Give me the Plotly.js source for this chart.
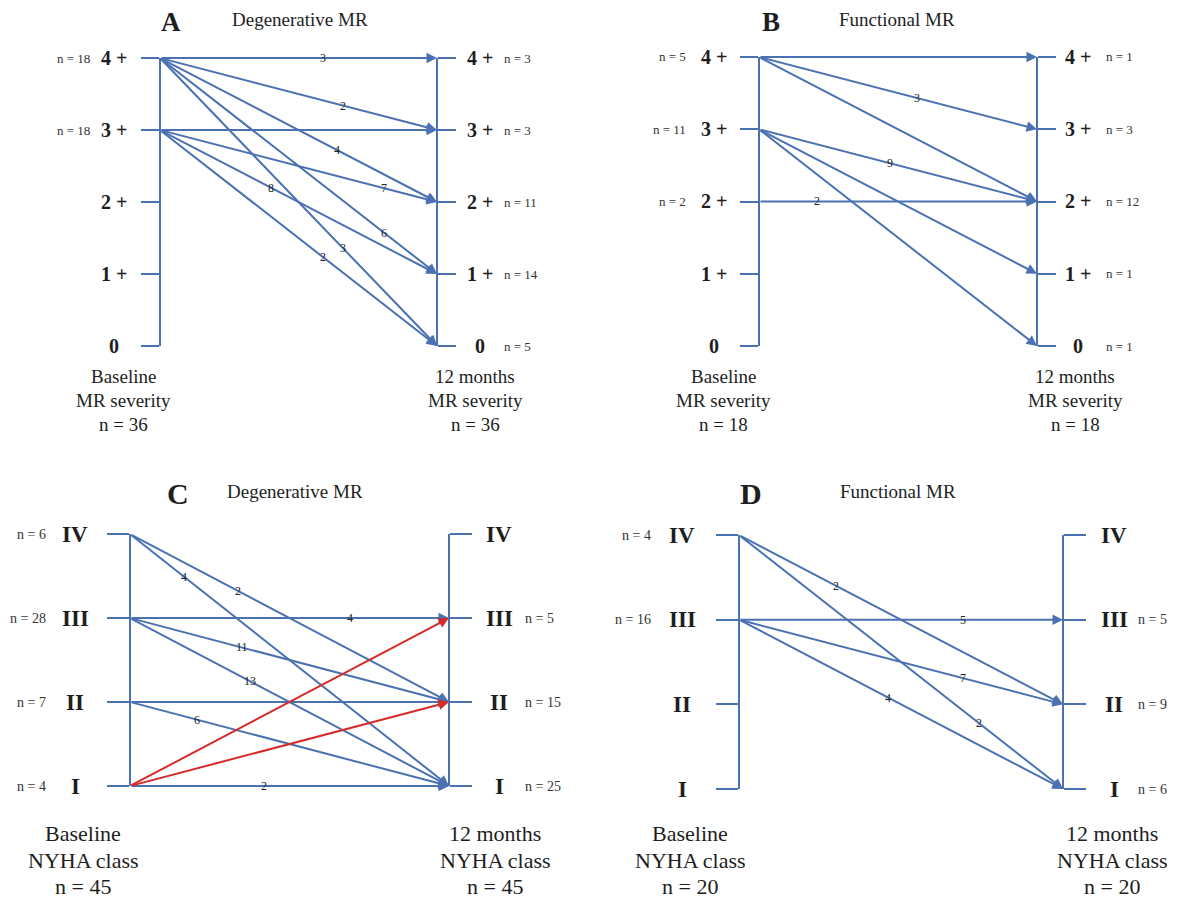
<!DOCTYPE html>
<html><head><meta charset="utf-8">
<script src="https://cdn.plot.ly/plotly-3.0.1.min.js"></script>
<style>body{margin:0;background:#fff}</style>
</head><body>
<div id="chart" style="width:1184px;height:903px"></div>
<script>
// ---------------- DATA ----------------
const mrLevels = [0, 1, 2, 3, 4];
const mrLabels = ['0', '1 +', '2 +', '3 +', '4 +'];
const nyhaLevels = [1, 2, 3, 4];
const nyhaLabels = ['I', 'II', 'III', 'IV'];

// Panel A: Degenerative MR, MR severity (baseline -> 12 months)
const aFrom  = [4, 4, 4, 4, 4, 3, 3, 3, 3];
const aTo    = [4, 3, 2, 1, 0, 3, 2, 1, 0];
const aCount = [3, 2, 4, 6, 3, 1, 7, 8, 2];
// Panel B: Functional MR, MR severity
const bFrom  = [4, 4, 4, 3, 3, 3, 2];
const bTo    = [4, 3, 2, 2, 1, 0, 2];
const bCount = [1, 3, 1, 9, 1, 1, 2];
// Panel C: Degenerative MR, NYHA class
const cFrom  = [4, 4, 3, 3, 3, 2, 2, 1, 1, 1];
const cTo    = [2, 1, 3, 2, 1, 2, 1, 1, 3, 2];
const cCount = [2, 4, 4, 11, 13, 1, 6, 2, 1, 1];
// Panel D: Functional MR, NYHA class
const dFrom  = [4, 4, 3, 3, 3];
const dTo    = [2, 1, 3, 2, 1];
const dCount = [2, 2, 5, 7, 4];

const panelLetters = ['A', 'B', 'C', 'D'];
const panelSubtitles = ['Degenerative MR', 'Functional MR', 'Degenerative MR', 'Functional MR'];
const mrCaptionLeft = ['Baseline', 'MR severity'];
const mrCaptionRight = ['12 months', 'MR severity'];
const nyhaCaptionLeft = ['Baseline', 'NYHA class'];
const nyhaCaptionRight = ['12 months', 'NYHA class'];

// ---------------- STYLE / LAYOUT ----------------
const W = 1184, H = 903;
const BLUE = '#4a72b2', RED = '#d42b2b', INK = '#1e1e1e';
const FONT = '"Liberation Serif", "Times New Roman", serif';

// where along each arrow its count label sits (fraction of the width)
const aLabelAt = [0.59, 0.66, 0.64, 0.81, 0.66, 0.5, 0.81, 0.40, 0.59];
const bLabelAt = [0.5, 0.57, 0.5, 0.47, 0.5, 0.5, 0.21];
const cLabelAt = [0.34, 0.17, 0.69, 0.35, 0.375, 0.5, 0.21, 0.42, 0.5, 0.5];
const dLabelAt = [0.30, 0.74, 0.69, 0.69, 0.46];

const geoms = [
  {x0:160, x1:437, yTop:58,  yBot:346, tick:18, lvlOff:[-46,43], nOff:[-68,65], capOff:[-37,38], capY:[376,400,424], capSize:19, lvlSize:20, nSize:13, letter:[171,22], sub:[300,20], letterSize:27, subSize:19},
  {x0:759, x1:1037, yTop:57, yBot:346, tick:18, lvlOff:[-45,41], nOff:[-71,67], capOff:[-36,38], capY:[376,400,424], capSize:19, lvlSize:20, nSize:13, letter:[771,22], sub:[897,20], letterSize:27, subSize:19},
  {x0:130, x1:449, yTop:534, yBot:786, tick:22, lvlOff:[-55,50], nOff:[-82,74], capOff:[-47,46], capY:[833,860,886], capSize:22, lvlSize:23, nSize:14, letter:[178,493], sub:[295,491], letterSize:30, subSize:19},
  {x0:739, x1:1063, yTop:535, yBot:789, tick:22, lvlOff:[-57,51], nOff:[-86,73], capOff:[-49,49], capY:[833,860,886], capSize:22, lvlSize:23, nSize:14, letter:[751,493], sub:[898,491], letterSize:30, subSize:19}
];

const panels = [
  {levels: mrLevels, labels: mrLabels, from: aFrom, to: aTo, count: aCount, at: aLabelAt, capL: mrCaptionLeft, capR: mrCaptionRight},
  {levels: mrLevels, labels: mrLabels, from: bFrom, to: bTo, count: bCount, at: bLabelAt, capL: mrCaptionLeft, capR: mrCaptionRight},
  {levels: nyhaLevels, labels: nyhaLabels, from: cFrom, to: cTo, count: cCount, at: cLabelAt, capL: nyhaCaptionLeft, capR: nyhaCaptionRight},
  {levels: nyhaLevels, labels: nyhaLabels, from: dFrom, to: dTo, count: dCount, at: dLabelAt, capL: nyhaCaptionLeft, capR: nyhaCaptionRight}
];

const layout = {
  width: W, height: H, margin: {l:0, r:0, t:0, b:0},
  paper_bgcolor: '#ffffff', plot_bgcolor: 'rgba(0,0,0,0)',
  showlegend: false, annotations: [], font: {family: FONT, color: INK}
};
const data = [];

panels.forEach((p, i) => {
  const g = geoms[i];
  const xn = i === 0 ? 'x' : 'x' + (i + 1);
  const ylId = 2 * i + 1, yrId = 2 * i + 2;
  const yl = ylId === 1 ? 'y' : 'y' + ylId;
  const yr = 'y' + yrId;
  const lo = Math.min(...p.levels), hi = Math.max(...p.levels);
  const span = g.x1 - g.x0;
  const xd0 = Math.max(0, g.x0 - 110), xd1 = Math.min(W, g.x1 + 110);

  layout['xaxis' + (i === 0 ? '' : i + 1)] = {
    domain: [xd0 / W, xd1 / W], range: [(xd0 - g.x0) / span, (xd1 - g.x0) / span],
    visible: false, anchor: yl, fixedrange: true
  };
  const yBase = {
    domain: [1 - g.yBot / H, 1 - g.yTop / H], range: [lo, hi], anchor: 'free',
    showline: true, linecolor: BLUE, linewidth: 2, ticks: 'outside', ticklen: g.tick,
    tickwidth: 2, tickcolor: BLUE, tickvals: p.levels, showticklabels: false,
    showgrid: false, zeroline: false, fixedrange: true
  };
  layout['yaxis' + (ylId === 1 ? '' : ylId)] = Object.assign({}, yBase, {side: 'left', position: g.x0 / W});
  layout['yaxis' + yrId] = Object.assign({}, yBase, {side: 'right', position: g.x1 / W, overlaying: yl});

  data.push({type:'scatter', x: p.levels.map(() => 0), y: p.levels, xaxis: xn, yaxis: yl,
             mode:'markers', marker:{opacity:0}, hoverinfo:'skip'});
  data.push({type:'scatter', x: p.levels.map(() => 1), y: p.levels, xaxis: xn, yaxis: yr,
             mode:'markers', marker:{opacity:0}, hoverinfo:'skip'});

  const A = layout.annotations;
  // arrows: blue first, then worsening (red) on top
  const order = p.from.map((f, k) => k).sort((a, b) => (p.to[a] > p.from[a]) - (p.to[b] > p.from[b]));
  order.forEach(k => {
    const worse = p.to[k] > p.from[k];
    A.push({xref: xn, yref: yl, axref: xn, ayref: yl, x: 1, y: p.to[k], ax: 0, ay: p.from[k],
            text: '', showarrow: true, arrowhead: 2, arrowsize: 1.05, arrowwidth: 2,
            arrowcolor: worse ? RED : BLUE, standoff: 0, startstandoff: 0});
  });
  // count labels
  p.from.forEach((f, k) => {
    if (p.count[k] > 1) {
      const t = p.at[k];
      A.push({xref: xn, yref: yl, x: t, y: f + (p.to[k] - f) * t, text: String(p.count[k]),
              showarrow: false, font: {size: 12, color: '#222', family: FONT}});
    }
  });
  // level labels and n per level
  p.levels.forEach((lv, j) => {
    A.push({xref: xn, yref: yl, x: 0, y: lv, xshift: g.lvlOff[0], xanchor: 'center', yanchor: 'middle',
            text: '<b>' + p.labels[j] + '</b>', showarrow: false, font: {size: g.lvlSize, color: INK, family: FONT}});
    A.push({xref: xn, yref: yl, x: 1, y: lv, xshift: g.lvlOff[1], xanchor: 'center', yanchor: 'middle',
            text: '<b>' + p.labels[j] + '</b>', showarrow: false, font: {size: g.lvlSize, color: INK, family: FONT}});
    const nBase = p.from.reduce((s, f, k) => s + (f === lv ? p.count[k] : 0), 0);
    const nEnd = p.to.reduce((s, t, k) => s + (t === lv ? p.count[k] : 0), 0);
    if (nBase > 0) A.push({xref: xn, yref: yl, x: 0, y: lv, xshift: g.nOff[0], xanchor: 'right', yanchor: 'middle',
            text: 'n = ' + nBase, showarrow: false, font: {size: g.nSize, color: '#333', family: FONT}});
    if (nEnd > 0) A.push({xref: xn, yref: yl, x: 1, y: lv, xshift: g.nOff[1], xanchor: 'left', yanchor: 'middle',
            text: 'n = ' + nEnd, showarrow: false, font: {size: g.nSize, color: '#333', family: FONT}});
  });
  // captions
  const total = p.count.reduce((s, c) => s + c, 0);
  const capL = p.capL.concat(['n = ' + total]);
  const capR = p.capR.concat(['n = ' + total]);
  capL.forEach((txt, j) => A.push({xref: xn, yref: 'paper', x: 0, xshift: g.capOff[0], y: 1 - g.capY[j] / H,
      xanchor: 'center', yanchor: 'middle', text: txt, showarrow: false, font: {size: g.capSize, color: INK, family: FONT}}));
  capR.forEach((txt, j) => A.push({xref: xn, yref: 'paper', x: 1, xshift: g.capOff[1], y: 1 - g.capY[j] / H,
      xanchor: 'center', yanchor: 'middle', text: txt, showarrow: false, font: {size: g.capSize, color: INK, family: FONT}}));
  // panel letter and subtitle
  A.push({xref:'paper', yref:'paper', x: g.letter[0] / W, y: 1 - g.letter[1] / H, xanchor:'center', yanchor:'middle',
          text: '<b>' + panelLetters[i] + '</b>', showarrow:false, font:{size: g.letterSize, color: INK, family: FONT}});
  A.push({xref:'paper', yref:'paper', x: g.sub[0] / W, y: 1 - g.sub[1] / H, xanchor:'center', yanchor:'middle',
          text: panelSubtitles[i], showarrow:false, font:{size: g.subSize, color: INK, family: FONT}});
});

Plotly.newPlot('chart', data, layout, {displayModeBar: false, staticPlot: true});
</script>
</body></html>
